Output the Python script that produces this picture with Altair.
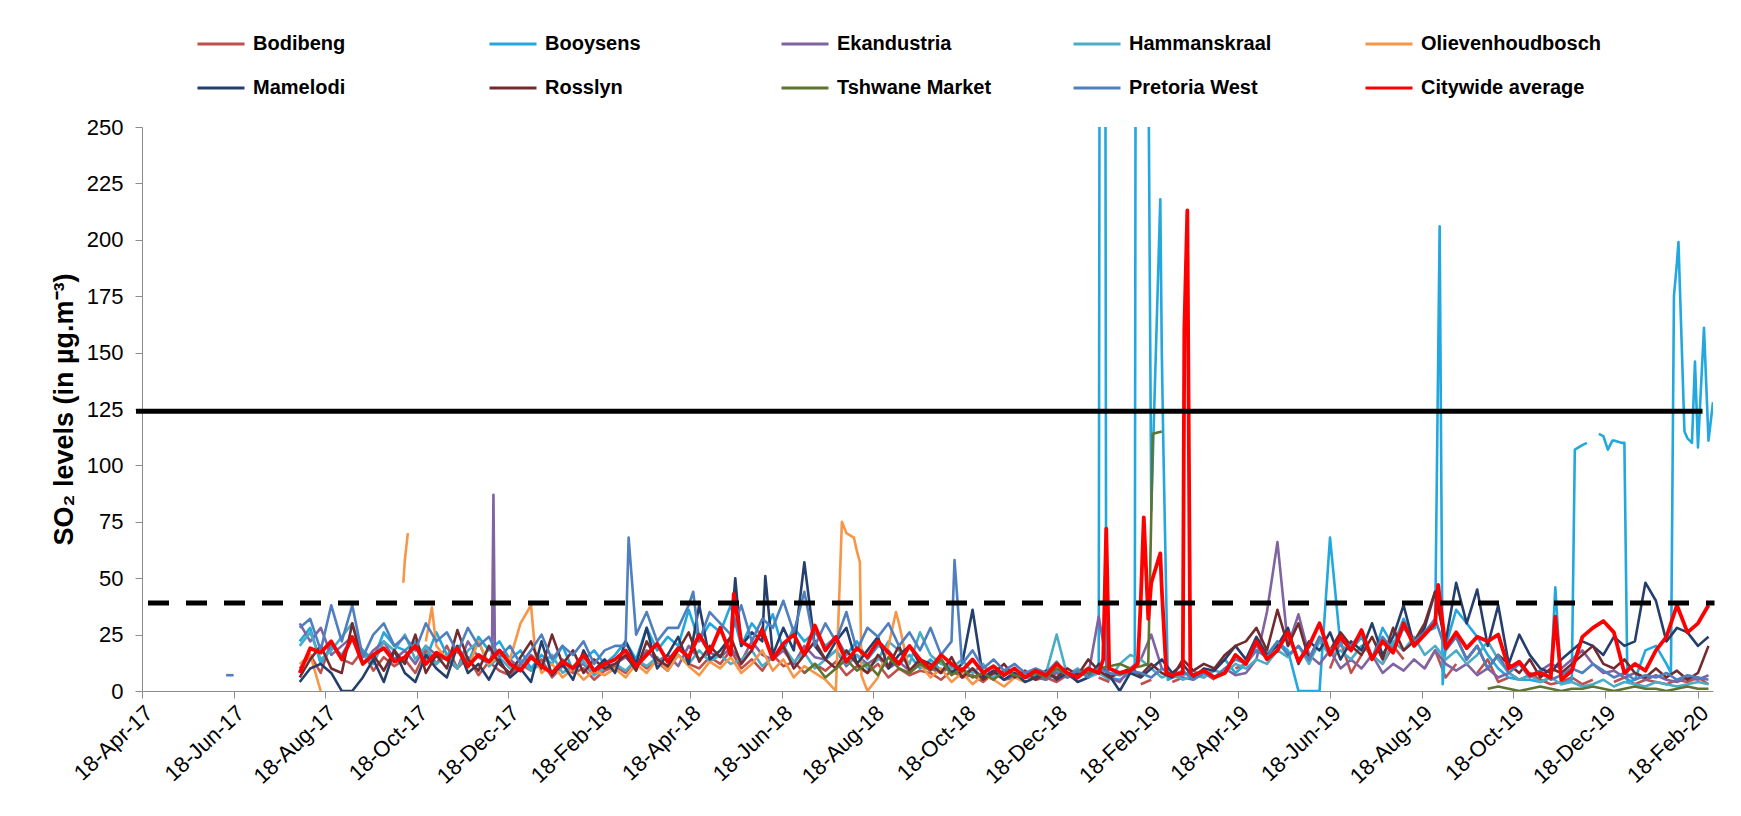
import altair as alt
import pandas as pd

# ---------------- data ----------------
SERIES = ["Bodibeng", "Booysens", "Ekandustria", "Hammanskraal", "Olievenhoudbosch",
          "Mamelodi", "Rosslyn", "Tshwane Market", "Pretoria West", "Citywide average"]
COLORS = ["#C0504D", "#22A7DF", "#8064A2", "#4BACC6", "#F79646",
          "#243F6B", "#722B2E", "#5E7431", "#4F7FBF", "#FF0000"]

WEEK_START = "2017-08-01"   # weekly readings start here
N = None

BODIBENG = [10, 16, 8, 22, 14, 12, 18, 9, 15, 11,
            14, 8, 18, 12, 20, 10, 15, 7, 13, 9,
            7, 12, 9, 14, 6, 11, 8, 10, 5, 9,
            11, 8, 14, 10, 13, 9, 16, 12, 10, 15,
            12, 18, 10, 14, 9, 16, 11, 13, 8, 12,
            9, 13, 7, 11, 8, 12, 6, 10, 7, 9,
            8, 5, 9, 6, 7, 4, 8, 5, 6, 7,
            5, 6, 4, 7, 5, N, 6, 4, N, N,
            3, 5, N, 4, 6, N, 8, 5, N, 10,
            12, N, 16, 20, N, 14, 18, N, 10, 22,
            8, 16, N, 12, 20, 14, N, 10, 18, 6,
            12, N, 8, 14, 4, 6, N, 8, 5, 3,
            4, 6, 3, 5, N, 4, 6, 3, 5, 4,
            3, 5, 4, 6, 3]

BOOYSENS = [22, 28, 12, 20, 16, 24, 18, 14, 26, 20,
            18, 22, 14, 26, 16, 20, 12, 24, 18, 22,
            14, 18, 10, 16, 12, 20, 9, 14, 18, 12,
            16, 22, 14, 28, 18, 24, 20, 36, 22, 30,
            26, 38, 20, 30, 24, 34, 18, 28, 22, 26,
            20, 24, 16, 22, 14, 20, 18, 12, 16, 10,
            14, 9, 12, 7, 10, 6, 9, 5, 8, 6,
            7, 5, 9, 6, 8, 10, 8, 6, 5, 8,
            500, 80, 150, 6, 7, 9, 6, 10, 14, 8,
            12, 20, 16, 22, 18, 0, 0, 0, 68, 20,
            18, 24, 14, 28, 20, 32, 22, 26, 28, 20,
            36, 30, 24, 16, 10, 6, 5, 5, 4, 6,
            3, 5, 109, N, 113, 111, 110, 5, 18, 20,
            12, 190, 112, 108, 111]
BOOYSENS_EXTRA = [("2019-01-16", 500), ("2019-01-19", 500), ("2019-01-20", 8),
                  ("2019-02-08", 8), ("2019-02-09", 500), ("2019-02-15", 500),
                  ("2019-02-25", 218), ("2019-02-27", 110), ("2019-03-02", 5),
                  ("2019-08-30", 206), ("2019-09-01", 3),
                  ("2019-11-15", 46),
                  ("2019-11-28", 107), ("2019-12-06", 110), ("2019-12-07", N),
                  ("2019-12-14", 114), ("2019-12-20", 107), ("2019-12-23", 111),
                  ("2019-12-29", 110), ("2020-01-02", 4),
                  ("2020-01-31", 8), ("2020-02-02", 175), ("2020-02-05", 199),
                  ("2020-02-09", 115), ("2020-02-14", 110), ("2020-02-16", 146),
                  ("2020-02-22", 161), ("2020-02-28", 128)]

EKANDUSTRIA = [30, 22, 28, 16, 20, 24, 12, 18, 22, 14,
               18, 12, 20, 16, 14, 10, 22, 15, 12, 18,
               14, 10, 16, 12, 8, 14, 10, 12, 7, 11,
               12, 15, 10, 18, 13, 16, 11, 20, 14, 17,
               15, 19, 13, 22, 16, 14, 18, 12, 20, 15,
               14, 18, 11, 16, 12, 15, 10, 13, 9, 12,
               10, 8, 11, 7, 9, 6, 8, 5, 7, 6,
               6, 5, 8, 6, 8, 7, 33, 6, 4, 10,
               14, 25, 10, 7, 6, 5, 8, 6, 10, 7,
               8, 14, 35, 66, 20, 34, 16, 12, 18, 10,
               14, 10, 16, 8, 12, 9, 14, 10, 18, 12,
               9, 12, 7, 10, 6, 8, 5, 7, 9, 12,
               10, 14, 18, 12, 8, 9, 6, 8, 5, 7,
               5, 4, 6, 5, 7]
EKANDUSTRIA_EXTRA = [("2017-12-07", 16), ("2017-12-08", 87), ("2017-12-09", 15)]

HAMMANSKRAAL = [20, 26, 14, 18, 24, 30, 16, 12, 22, 18,
                25, 14, 20, 12, 16, 10, 18, 22, 11, 15,
                10, 14, 9, 12, 16, 8, 11, 13, 7, 10,
                12, 9, 14, 11, 15, 10, 16, 12, 18, 13,
                16, 12, 14, 18, 11, 15, 20, 13, 17, 10,
                14, 18, 12, 16, 10, 14, 22, 18, 12, 26,
                16, 12, 10, 14, 8, 12, 6, 9, 8, 7,
                6, 8, 25, 7, 10, 6, 8, 5, 12, 16,
                14, 10, 6, 8, 5, 7, 6, 9, 8, 12,
                10, 14, 12, 18, 15, 20, 12, 22, 16, 18,
                14, 20, 16, 12, 22, 18, 24, 16, 20, 14,
                18, 12, 16, 22, 14, 8, 5, 7, 4, 6,
                3, 4, 2, 3, 5, 2, 4, 3, 2, 4,
                3, 2, 3, 4, 3]

OLIEVENHOUDBOSCH = [12, 16, 0, N, N, N, N, N, N, N,
                    58, N, 22, 20, 14, 18, 10, 22, 12, 16,
                    14, 30, 38, 8, 12, 6, 10, 5, 9, 7,
                    10, 6, 12, 8, 14, 9, 16, 11, 7, 13,
                    10, 15, 8, 12, 18, 9, 14, 6, 11, 8,
                    5, 0, 70, 62, 0, 6, 20, 30, 8, 12,
                    6, 10, 4, 8, 3, 7, 5, 2, 6, 4]
OLIEVENHOUDBOSCH_EXTRA = [("2017-10-09", 48), ("2017-10-12", 70), ("2017-10-28", 37),
                          ("2018-01-05", 16), ("2018-07-28", 75), ("2018-08-05", 68),
                          ("2018-08-09", 57), ("2018-08-10", 7), ("2018-09-02", 35)]

MAMELODI = [4, 10, 12, 8, 0, 0, 6, 14, 4, 18,
            8, 4, 16, 10, 6, 20, 8, 12, 5, 14,
            6, 10, 4, 22, 7, 12, 5, 18, 9, 14,
            8, 22, 12, 28, 10, 16, 24, 12, 38, 14,
            18, 24, 20, 26, 22, 16, 28, 18, 57, 20,
            14, 22, 28, 12, 18, 24, 10, 16, 20, 12,
            10, 14, 8, 12, 36, 6, 9, 5, 8, 4,
            6, 9, 5, 8, 4, 6, 12, 7, 0, 8,
            6, 10, 14, 8, 12, 6, 10, 9, 14, 20,
            14, 24, 16, 20, 28, 12, 22, 18, 26, 14,
            22, 18, 30, 16, 24, 38, 20, 28, 44, 22,
            48, 30, 45, 20, 38, 12, 25, 16, 10, 8,
            14, 18, 22, 20, 16, 24, 20, 22, 48, 40,
            22, 28, 26, 20, 24]
MAMELODI_EXTRA = [("2018-05-18", 50), ("2018-06-07", 51)]

ROSSLYN = [6, 14, 20, 10, 8, 30, 12, 16, 9, 18,
           12, 25, 8, 16, 10, 27, 14, 9, 20, 12,
           8, 15, 22, 10, 25, 12, 18, 8, 14, 10,
           12, 16, 9, 22, 14, 11, 18, 26, 13, 20,
           15, 24, 12, 18, 28, 14, 20, 10, 16, 22,
           14, 10, 18, 12, 8, 16, 11, 20, 9, 14,
           12, 8, 15, 6, 10, 5, 8, 12, 6, 9,
           5, 8, 6, 10, 7, 14, 9, 6, 8, 10,
           7, 12, 8, 6, 14, 9, 12, 10, 16, 20,
           22, 28, 18, 36, 20, 30, 14, 24, 18, 26,
           20, 16, 24, 14, 28, 18, 22, 30, 44, 20,
           24, 14, 20, 10, 16, 12, 8, 14, 6, 10,
           8, 12, 16, 20, 12, 10, 14, 8, 6, 10,
           6, 9, 5, 8, 20]

TSHWANE_START = "2018-07-03"
TSHWANE = ([8, 12,
            6, 10, 14, 9, 12, 7, 15, 10, 8, 12,
            9, 14, 7, 10, 6, 8, 5, 9, 7, 6,
            8, 6, 10, 7, 9, 8, 10, 11, 12, 10,
            11, 78, 115]
           + [N] * 30 +
           [1, 2, 1, 0, 1, 2, 1, 0, 1, 1,
            2, 1, 0, 1, 2, 1, 1, 0, 1, 2,
            1, 1])
TSHWANE_EXTRA = [("2019-02-17", 12), ("2019-02-20", 114)]

PRETORIA_WEST = [28, 32, 18, 38, 22, 38, 15, 25, 30, 20,
                 24, 18, 30, 22, 26, 17, 28, 20, 24, 15,
                 20, 12, 18, 25, 14, 20, 16, 22, 12, 18,
                 20, 20, 25, 35, 22, 28, 28, 38, 22, 35,
                 30, 25, 38, 22, 32, 28, 40, 26, 44, 20,
                 30, 22, 35, 18, 28, 24, 30, 20, 26, 18,
                 28, 16, 22, 12, 18, 10, 14, 9, 12, 8,
                 10, 8, 13, 7, 9, 6, 10, 8, 7, 9,
                 8, 6, 10, 7, 9, 5, 8, 6, 10, 14,
                 12, 18, 15, 22, 16, 20, 14, 24, 18, 22,
                 20, 26, 15, 24, 18, 28, 22, 26, 32, 18,
                 24, 14, 20, 10, 16, 8, 12, 6, 9, 5,
                 7, 10, 8, 12, 9, 6, 8, 5, 7, 6,
                 8, 5, 7, 6, 5]
PRETORIA_WEST_EXTRA = [("2017-06-13", 7), ("2017-06-18", 7), ("2017-06-20", N),
                       ("2018-03-08", 68), ("2018-04-20", 44), ("2018-10-11", 58)]

CITYWIDE = [8, 19, 17, 22, 14, 24, 12, 16, 19, 13,
            15, 20, 12, 17, 14, 19, 11, 16, 13, 18,
            12, 9, 15, 11, 8, 13, 10, 16, 9, 12,
            14, 18, 11, 16, 21, 13, 19, 15, 25, 17,
            28, 16, 22, 19, 27, 14, 21, 25, 16, 29,
            18, 24, 13, 19, 15, 22, 17, 12, 20, 14,
            10, 16, 12, 9, 14, 8, 11, 7, 10, 6,
            9, 7, 12, 8, 6, 10, 8, 10, 8, 9,
            40, 48, 45, 7, 8, 7, 9, 6, 8, 16,
            12, 22, 14, 18, 26, 13, 20, 30, 16, 24,
            18, 27, 14, 22, 17, 30, 20, 25, 30, 19,
            26, 19, 24, 22, 25, 10, 13, 7, 8, 6,
            5, 9, 24, 28, 31, 26, 8, 12, 9, 18,
            24, 38, 26, 30, 38]
CITYWIDE_EXTRA = [("2018-05-17", 43), ("2019-01-18", 14), ("2019-01-20", 72),
                  ("2019-02-10", 12), ("2019-02-14", 77), ("2019-02-17", 32),
                  ("2019-02-25", 61), ("2019-03-01", 8), ("2019-03-13", 160),
                  ("2019-03-15", 213), ("2019-03-17", 8), ("2019-08-29", 47),
                  ("2019-11-15", 33)]

# guideline levels
LIMIT_24H = 124
LIMIT_24H_DATES = ["2017-04-14", "2020-02-21"]
LIMIT_ANNUAL = 39
LIMIT_ANNUAL_DATES = ["2017-04-22", "2020-02-29"]

TICK_MONTHS = [(2017, m) for m in (4, 6, 8, 10, 12)] + \
              [(2018, m) for m in (2, 4, 6, 8, 10, 12)] + \
              [(2019, m) for m in (2, 4, 6, 8, 10, 12)] + [(2020, 2)]
Y_TICKS = [0, 25, 50, 75, 100, 125, 150, 175, 200, 225, 250]


# ---------------- build tables ----------------
def build(name, start, weekly, extra):
    pts = []
    dates = pd.date_range(start, periods=len(weekly), freq="7D")
    for d, v in zip(dates, weekly):
        pts.append((d, v))
    for ds, v in extra:
        pts.append((pd.Timestamp(ds), v))
    pts.sort(key=lambda p: p[0])
    seg = 0
    rows = []
    for d, v in pts:
        if v is None:
            seg += 1
            continue
        rows.append({"date": d.strftime("%Y-%m-%dT00:00:00"), "value": v,
                     "series": name, "seg": f"{name}_{seg}"})
    return rows


station_rows = []
station_rows += build("Bodibeng", WEEK_START, BODIBENG, [])
station_rows += build("Booysens", WEEK_START, BOOYSENS, BOOYSENS_EXTRA)
station_rows += build("Ekandustria", WEEK_START, EKANDUSTRIA, EKANDUSTRIA_EXTRA)
station_rows += build("Hammanskraal", WEEK_START, HAMMANSKRAAL, [])
station_rows += build("Olievenhoudbosch", WEEK_START, OLIEVENHOUDBOSCH, OLIEVENHOUDBOSCH_EXTRA)
station_rows += build("Mamelodi", WEEK_START, MAMELODI, MAMELODI_EXTRA)
station_rows += build("Rosslyn", WEEK_START, ROSSLYN, [])
station_rows += build("Tshwane Market", TSHWANE_START, TSHWANE, TSHWANE_EXTRA)
station_rows += build("Pretoria West", WEEK_START, PRETORIA_WEST, PRETORIA_WEST_EXTRA)
avg_rows = build("Citywide average", WEEK_START, CITYWIDE, CITYWIDE_EXTRA)

stations = pd.DataFrame(station_rows)
average = pd.DataFrame(avg_rows)
solid = pd.DataFrame({"date": [d + "T00:00:00" for d in LIMIT_24H_DATES],
                      "value": [LIMIT_24H, LIMIT_24H]})
dashed = pd.DataFrame({"date": [d + "T00:00:00" for d in LIMIT_ANNUAL_DATES],
                       "value": [LIMIT_ANNUAL, LIMIT_ANNUAL]})

FONT = "Liberation Sans"

x_scale = alt.Scale(domain=[alt.DateTime(year=2017, month=4, date=18),
                            alt.DateTime(year=2020, month=2, date=28)])
y_scale = alt.Scale(domain=[0, 250], nice=False)

x_axis = alt.Axis(values=[alt.DateTime(year=y, month=m, date=18) for y, m in TICK_MONTHS],
                  format="%d-%b-%y", labelAngle=-43, labelFontSize=22, labelFont=FONT,
                  labelColor="#000000", tickColor="#8C8C8C", domainColor="#8C8C8C",
                  tickSize=7, labelPadding=4, grid=False, title=None, labelOverlap=False,
                  labelFlush=False)
y_axis = alt.Axis(values=Y_TICKS, labelFontSize=22, labelFont=FONT, labelColor="#000000",
                  tickColor="#8C8C8C", domainColor="#8C8C8C", tickSize=7, labelPadding=12,
                  grid=False, title="SO₂ levels (in µg.m⁻³)", titleFont=FONT,
                  titleFontSize=27, titleFontWeight="bold", titleColor="#000000",
                  titlePadding=8)

legend = alt.Legend(title=None, orient="none", direction="horizontal",
                    legendX=54, legendY=-108, columns=5,
                    symbolType="stroke", symbolSize=2209, symbolStrokeWidth=3,
                    labelFont=FONT, labelFontSize=20, labelFontWeight="bold",
                    labelColor="#000000", labelOffset=7, labelLimit=400,
                    columnPadding=49, rowPadding=9, gridAlign="all", padding=0)

color = alt.Color("series:N", scale=alt.Scale(domain=SERIES, range=COLORS), legend=legend)

station_lines = alt.Chart(stations).mark_line(strokeWidth=2.6, clip=True, strokeJoin="round").encode(
    x=alt.X("date:T", scale=x_scale, axis=x_axis),
    y=alt.Y("value:Q", scale=y_scale, axis=y_axis),
    color=color,
    detail="seg:N",
)

avg_line = alt.Chart(average).mark_line(strokeWidth=3.8, clip=True, strokeJoin="round").encode(
    x=alt.X("date:T", scale=x_scale),
    y=alt.Y("value:Q", scale=y_scale),
    color=color,
    detail="seg:N",
)

solid_line = alt.Chart(solid).mark_line(color="#000000", strokeWidth=5, clip=False).encode(
    x=alt.X("date:T", scale=x_scale),
    y=alt.Y("value:Q", scale=y_scale),
)
dashed_line = alt.Chart(dashed).mark_line(color="#000000", strokeWidth=5, strokeDash=[21, 17],
                                          clip=False).encode(
    x=alt.X("date:T", scale=x_scale),
    y=alt.Y("value:Q", scale=y_scale),
)

chart = alt.layer(station_lines, avg_line, solid_line, dashed_line).properties(
    width=1571, height=564,
    autosize=alt.AutoSizeParams(type="none"),
    padding={"left": 134, "top": 119, "right": 15, "bottom": 110},
    background="#FFFFFF",
).configure_view(stroke=None)

chart.save("out.html", embed_options={"renderer": "svg", "actions": False})
